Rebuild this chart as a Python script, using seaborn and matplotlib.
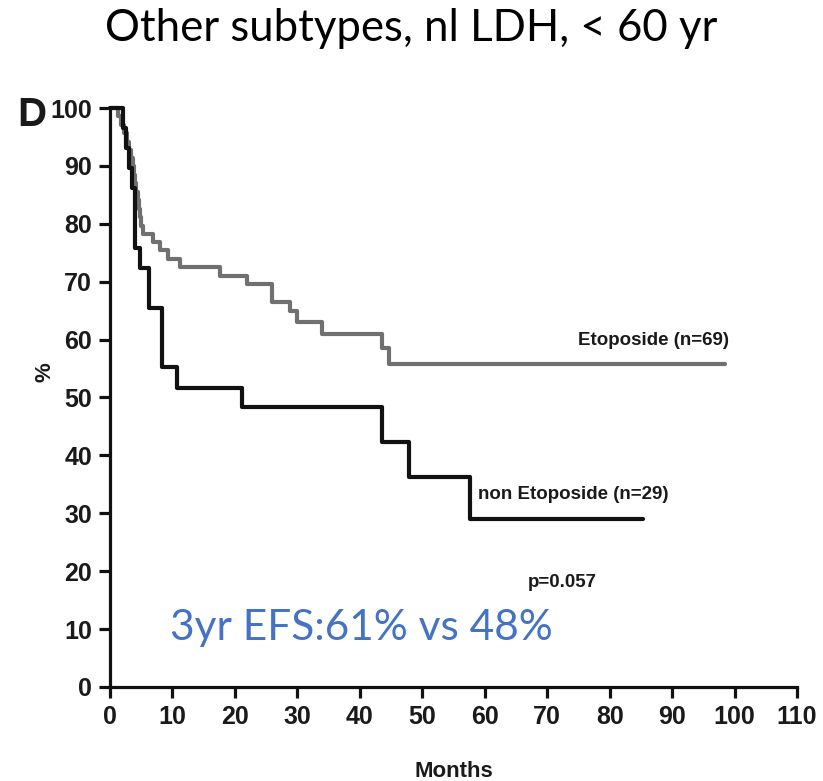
import matplotlib
matplotlib.use("Agg")
import matplotlib.pyplot as plt
from matplotlib import font_manager
import seaborn as sns
import pandas as pd

# Kaplan-Meier estimates (months, % event-free)
eto_months = [0, 1.2, 1.8, 2.3, 2.7, 3.0, 3.3, 3.6, 3.8, 4.0, 4.2, 4.4, 4.6, 4.8,
              5.0, 5.3, 6.9, 8.0, 9.3, 11.2, 17.6, 21.9, 25.9, 28.8, 29.9, 33.9,
              43.5, 44.6, 98.5]
eto_pct = [100, 98.6, 97.1, 95.7, 94.2, 92.8, 91.3, 89.9, 88.4, 87.0, 85.5, 84.1,
           82.6, 81.2, 79.7, 78.3, 76.8, 75.4, 73.9, 72.5, 71.0, 69.6, 66.5, 65.0,
           63.0, 61.0, 58.5, 55.7, 55.7]

non_months = [0, 2.1, 2.5, 3.0, 3.5, 4.0, 4.8, 6.2, 8.3, 10.7, 21.1, 43.6, 47.8,
              57.6, 85.3]
non_pct = [100, 96.6, 93.1, 89.7, 86.2, 75.9, 72.4, 65.5, 55.2, 51.7, 48.3, 42.3,
           36.2, 29.0, 29.0]

groups = ["Etoposide", "non Etoposide"]
group_n = [69, 29]
x_ticks = list(range(0, 111, 10))
y_ticks = list(range(0, 101, 10))

title = "Other subtypes, nl LDH, < 60 yr"
efs_note = "3yr EFS:61% vs 48%"
p_note = "p=0.057"

available = {f.name for f in font_manager.fontManager.ttflist}
narrow = "Liberation Sans Narrow" if "Liberation Sans Narrow" in available else "Liberation Sans"

df = pd.concat([
    pd.DataFrame({"Months": eto_months, "pct": eto_pct, "group": groups[0]}),
    pd.DataFrame({"Months": non_months, "pct": non_pct, "group": groups[1]}),
], ignore_index=True)

sns.set_theme(style="ticks")
plt.rcParams["font.family"] = ["Liberation Sans", "DejaVu Sans"]

fig = plt.figure(figsize=(8.23, 7.81), dpi=100)
ax = fig.add_axes([0.1337, 0.1204, 0.8347, 0.7413])

sns.lineplot(data=df, x="Months", y="pct", hue="group",
             palette={groups[0]: "#707070", groups[1]: "#111111"},
             estimator=None, drawstyle="steps-post", linewidth=3.0,
             legend=False, ax=ax, clip_on=False)

ax.set_xlim(0, 110)
ax.set_ylim(0, 100)
ax.set_xticks(x_ticks)
ax.set_yticks(y_ticks)
sns.despine(ax=ax)
for side in ("left", "bottom"):
    ax.spines[side].set_linewidth(2.3)
    ax.spines[side].set_color("#111111")
ax.tick_params(axis="both", direction="out", length=8, width=2.3, color="#111111",
               labelsize=18, pad=5, labelcolor="#1a1a1a")
for lab in ax.get_xticklabels() + ax.get_yticklabels():
    lab.set_fontweight("bold")
    lab.set_family(narrow)
ax.set_xlabel("")
ax.set_ylabel("")

# labels
fig.text(0.5515, 0.0128, "Months", ha="center", va="center", fontsize=16,
         fontweight="bold", family=narrow, color="#1a1a1a")
fig.text(0.055, 0.524, "%", ha="center", va="center", rotation=90, fontsize=16,
         fontweight="bold", family=narrow, color="#1a1a1a")
fig.text(0.021, 0.853, "D", ha="left", va="center", fontsize=29,
         fontweight="bold", color="#1a1a1a")
fig.text(0.5, 0.964, title, ha="center", va="center", fontsize=31.5,
         family=["Lato", "DejaVu Sans"], color="black")

ax.text(74.9, 59.8, f"{groups[0]} (n={group_n[0]})", ha="left", va="center",
        fontsize=13.5, fontweight="bold", family=narrow, color="#1a1a1a")
ax.text(58.9, 33.2, f"{groups[1]} (n={group_n[1]})", ha="left", va="center",
        fontsize=13.5, fontweight="bold", family=narrow, color="#1a1a1a")
ax.text(66.9, 18.1, p_note, ha="left", va="center", fontsize=13.5,
        fontweight="bold", family=narrow, color="#1a1a1a")
ax.text(9.6, 10.2, efs_note, ha="left", va="center", fontsize=30.5,
        family=["Lato", "DejaVu Sans"], color="#4472C4")

fig.savefig("out.png", dpi=100)
